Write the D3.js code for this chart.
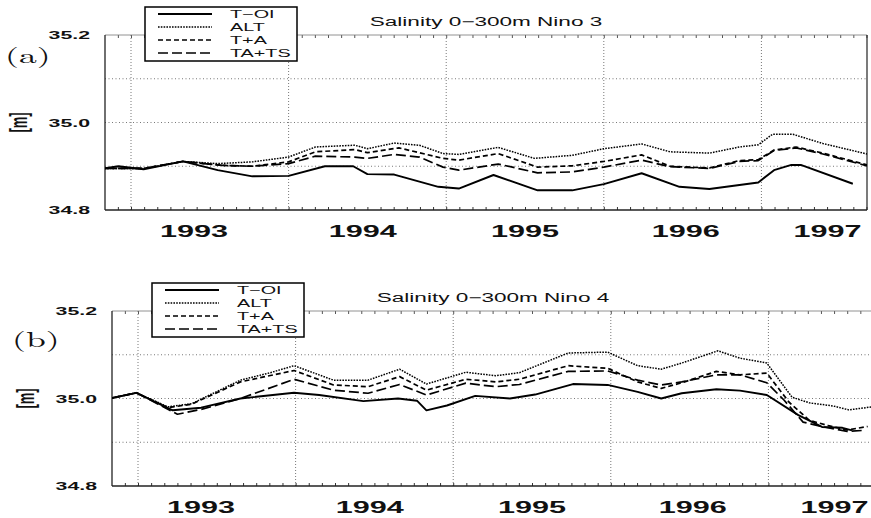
<!DOCTYPE html>
<html>
<head>
<meta charset="utf-8">
<script src="https://cdn.jsdelivr.net/npm/d3@7"></script>
<style>
  body { margin: 0; background: #fff; }
  svg { display: block; }
</style>
</head>
<body>
<div id="chart"></div>
<script>
// ---- data (decimal year, salinity) ----
const yearGrid = [1993, 1994, 1995, 1996, 1997]
const yearLabelAt = [1993.40, 1994.47, 1995.50, 1996.52, 1997.42]
const yTickLabels = [34.8, 35.0, 35.2]
const yGridValues = [34.9, 35.0, 35.1]
const seriesNames = ['T\u2212OI', 'ALT', 'T+A', 'TA+TS']

const nino3_TOI = [[1992.83,34.895],[1992.92,34.900],[1993.08,34.893],[1993.33,34.911],[1993.55,34.891],[1993.77,34.877],[1994.00,34.878],[1994.23,34.900],[1994.41,34.900],[1994.50,34.882],[1994.67,34.881],[1994.95,34.853],[1995.08,34.849],[1995.30,34.880],[1995.58,34.845],[1995.80,34.845],[1996.00,34.859],[1996.24,34.884],[1996.48,34.853],[1996.67,34.848],[1996.98,34.863],[1997.08,34.891],[1997.19,34.903],[1997.25,34.903],[1997.58,34.860]]
const nino3_ALT = [[1992.83,34.895],[1993.08,34.895],[1993.33,34.911],[1993.55,34.906],[1993.77,34.910],[1994.00,34.921],[1994.17,34.944],[1994.42,34.948],[1994.50,34.940],[1994.67,34.953],[1994.83,34.948],[1994.98,34.929],[1995.08,34.927],[1995.33,34.943],[1995.56,34.918],[1995.80,34.925],[1996.00,34.940],[1996.24,34.951],[1996.42,34.933],[1996.67,34.930],[1996.86,34.944],[1996.98,34.949],[1997.07,34.973],[1997.20,34.973],[1997.39,34.952],[1997.67,34.928]]
const nino3_TA = [[1992.83,34.895],[1993.08,34.895],[1993.33,34.911],[1993.58,34.902],[1993.77,34.900],[1994.00,34.910],[1994.17,34.933],[1994.42,34.938],[1994.50,34.931],[1994.70,34.942],[1994.98,34.918],[1995.08,34.914],[1995.33,34.929],[1995.58,34.898],[1995.80,34.901],[1996.00,34.911],[1996.24,34.926],[1996.42,34.900],[1996.67,34.896],[1996.86,34.913],[1996.98,34.915],[1997.08,34.937],[1997.22,34.944],[1997.39,34.930],[1997.67,34.903]]
const nino3_TATS = [[1992.83,34.895],[1993.08,34.895],[1993.33,34.911],[1993.58,34.902],[1993.77,34.900],[1994.00,34.906],[1994.17,34.923],[1994.42,34.921],[1994.50,34.918],[1994.67,34.927],[1994.83,34.921],[1994.98,34.898],[1995.08,34.891],[1995.33,34.905],[1995.58,34.885],[1995.80,34.887],[1996.00,34.898],[1996.24,34.914],[1996.42,34.899],[1996.67,34.895],[1996.86,34.911],[1996.98,34.913],[1997.08,34.936],[1997.22,34.942],[1997.39,34.928],[1997.67,34.901]]

const nino4_TOI = [[1992.82,35.000],[1992.99,35.013],[1993.22,34.973],[1993.40,34.979],[1993.65,35.000],[1993.99,35.013],[1994.15,35.008],[1994.43,34.994],[1994.65,35.000],[1994.77,34.995],[1994.83,34.973],[1994.96,34.984],[1995.14,35.006],[1995.36,35.000],[1995.52,35.009],[1995.76,35.033],[1995.98,35.031],[1996.17,35.015],[1996.32,35.000],[1996.45,35.012],[1996.67,35.021],[1996.82,35.018],[1996.99,35.008],[1997.19,34.962],[1997.34,34.935],[1997.47,34.933],[1997.53,34.927]]
const nino4_ALT = [[1992.82,35.000],[1992.99,35.013],[1993.19,34.981],[1993.34,34.988],[1993.65,35.042],[1993.84,35.059],[1993.99,35.075],[1994.24,35.042],[1994.46,35.042],[1994.66,35.067],[1994.83,35.033],[1995.08,35.060],[1995.27,35.052],[1995.42,35.059],[1995.73,35.104],[1995.98,35.106],[1996.17,35.075],[1996.32,35.067],[1996.45,35.081],[1996.68,35.109],[1996.82,35.092],[1996.99,35.081],[1997.15,35.003],[1997.26,34.990],[1997.41,34.983],[1997.51,34.974],[1997.66,34.981]]
const nino4_TA = [[1992.82,35.000],[1992.99,35.013],[1993.19,34.979],[1993.34,34.987],[1993.65,35.038],[1993.99,35.064],[1994.24,35.031],[1994.46,35.027],[1994.66,35.050],[1994.83,35.019],[1995.08,35.044],[1995.27,35.038],[1995.42,35.044],[1995.73,35.075],[1995.98,35.069],[1996.17,35.038],[1996.32,35.023],[1996.45,35.036],[1996.67,35.062],[1996.82,35.054],[1996.99,35.058],[1997.13,34.992],[1997.26,34.950],[1997.38,34.938],[1997.50,34.928],[1997.63,34.936]]
const nino4_TATS = [[1992.82,35.000],[1992.99,35.013],[1993.25,34.964],[1993.40,34.975],[1993.65,35.000],[1993.99,35.044],[1994.24,35.019],[1994.46,35.012],[1994.66,35.032],[1994.83,35.008],[1995.08,35.035],[1995.27,35.027],[1995.42,35.032],[1995.73,35.062],[1995.98,35.063],[1996.17,35.042],[1996.32,35.031],[1996.45,35.038],[1996.67,35.054],[1996.82,35.054],[1996.99,35.036],[1997.10,34.996],[1997.22,34.946],[1997.35,34.935],[1997.50,34.925],[1997.60,34.927]]

// ---- layout ----
const W = 871, H = 518
const pw = 762, ph = 175
const sx = 1.85 // the scanned figure's text is stretched sideways

const panels = [
  { left: 105, top: 35, tag: '(a)', tagY: 63, title: 'Salinity 0\u2212300m Nino 3',
    series: [nino3_TOI, nino3_ALT, nino3_TA, nino3_TATS] },
  { left: 112, top: 311, tag: '(b)', tagY: 347, title: 'Salinity 0\u2212300m Nino 4',
    series: [nino4_TOI, nino4_ALT, nino4_TA, nino4_TATS] }
]

// line styles: T-OI, ALT, T+A, TA+TS
const lineStyle = [
  { dash: null, w: 1.9 },
  { dash: '1.6,1.2', w: 1.5 },
  { dash: '5,3', w: 1.7 },
  { dash: '10,4', w: 1.7 }
]

const svg = d3.select('#chart').append('svg')
    .attr('width', W).attr('height', H)
    .attr('viewBox', `0 0 ${W} ${H}`)

svg.append('rect').attr('width', W).attr('height', H).attr('fill', '#fff')

const x = d3.scaleLinear().domain([1992.835, 1997.67]).range([0, pw])
const y = d3.scaleLinear().domain([34.8, 35.2]).range([ph, 0])

// monthly minor ticks
const monthTicks = d3.range(0, 59).map(i => 1992 + 10 / 12 + i / 12).filter(t => t >= x.domain()[0] && t <= x.domain()[1])

function stretchText(parent, px, py, str, opts) {
  return parent.append('text')
    .attr('transform', `translate(${px},${py}) scale(${opts.sx || sx},1)`)
    .attr('text-anchor', opts.anchor || 'start')
    .style('font-family', opts.family || '"Liberation Sans", Arial, Helvetica, sans-serif')
    .style('font-size', opts.size + 'px')
    .style('font-weight', opts.weight || 'normal')
    .attr('fill', '#111')
    .text(str)
}

panels.forEach((p, pi) => {
  const g = svg.append('g').attr('transform', `translate(${p.left},${p.top})`)

  const clipId = 'clip' + pi
  g.append('clipPath').attr('id', clipId)
    .append('rect').attr('width', pw).attr('height', ph)

  // grid
  g.append('g').selectAll('line').data(yearGrid).enter().append('line')
      .attr('x1', d => x(d)).attr('x2', d => x(d))
      .attr('y1', 0).attr('y2', ph)
      .attr('stroke', '#555').attr('stroke-width', 0.8).attr('stroke-dasharray', '1,2')
  g.append('g').selectAll('line').data(yGridValues).enter().append('line')
      .attr('x1', 0).attr('x2', pw)
      .attr('y1', d => y(d)).attr('y2', d => y(d))
      .attr('stroke', '#555').attr('stroke-width', 0.8).attr('stroke-dasharray', '1,2.5')

  // ticks top / bottom
  g.append('g').attr('transform', `translate(0,${ph})`)
    .call(d3.axisBottom(x).tickValues(monthTicks).tickSize(-3).tickFormat(''))
    .call(a => a.select('.domain').remove())
    .selectAll('line').attr('stroke', '#333')
  g.append('g')
    .call(d3.axisTop(x).tickValues(monthTicks).tickSize(-3).tickFormat(''))
    .call(a => a.select('.domain').remove())
    .selectAll('line').attr('stroke', '#555')

  // frame
  g.append('line').attr('x1', 0).attr('x2', pw).attr('y1', 0).attr('y2', 0)
    .attr('stroke', '#777').attr('stroke-width', 0.8)
  g.append('line').attr('x1', 0).attr('x2', 0).attr('y1', 0).attr('y2', ph)
    .attr('stroke', '#222').attr('stroke-width', 1.3)
  g.append('line').attr('x1', 0).attr('x2', pw).attr('y1', ph).attr('y2', ph)
    .attr('stroke', '#222').attr('stroke-width', 1.3)
  g.append('line').attr('x1', pw).attr('x2', pw).attr('y1', 0).attr('y2', ph)
    .attr('stroke', '#222').attr('stroke-width', 1.2)

  // lines
  const line = d3.line().x(d => x(d[0])).y(d => y(d[1]))
  const order = [1, 2, 3, 0]
  const lg = g.append('g').attr('clip-path', `url(#${clipId})`)
  order.forEach(si => {
    lg.append('path')
      .datum(p.series[si])
      .attr('d', line)
      .attr('fill', 'none')
      .attr('stroke', '#000')
      .attr('stroke-width', lineStyle[si].w)
      .attr('stroke-dasharray', lineStyle[si].dash)
      .attr('stroke-linejoin', 'round')
  })

  // y tick labels
  yTickLabels.forEach(v => {
    stretchText(g, -15, y(v) + 4, v.toFixed(1), { size: 11.5, weight: 'bold', anchor: 'end' })
  })

  // year labels
  yearGrid.forEach((yr, i) => {
    stretchText(g, x(yearLabelAt[i]), ph + 27, String(yr), { size: 17, weight: 'bold', anchor: 'middle', sx: 1.8 })
  })

  // y unit label
  g.append('text')
    .attr('transform', `translate(${-87},${y(35.0)}) scale(1.9,1) rotate(-90)`)
    .attr('text-anchor', 'middle')
    .attr('dy', '0.35em')
    .style('font-family', '"Liberation Sans", Arial, sans-serif')
    .style('font-size', '13px')
    .style('font-weight', 'bold')
    .attr('fill', '#111')
    .text('[m]')

  // title
  stretchText(g, pw / 2, -9, p.title, { size: 12.2, anchor: 'middle' })

  // panel tag
  stretchText(svg, p.left - 100, p.tagY, p.tag, { size: 21, sx: 1.7, family: '"Latin Modern Roman", "Liberation Serif", "DejaVu Serif", serif' })

  // legend
  const lgd = g.append('g').attr('transform', 'translate(40,-28)')
  lgd.append('rect').attr('width', 152).attr('height', 54)
    .attr('fill', '#fff').attr('stroke', '#000').attr('stroke-width', 1.5)
  seriesNames.forEach((name, i) => {
    const ry = 7 + i * 13
    lgd.append('line')
      .attr('x1', 13).attr('x2', 67).attr('y1', ry).attr('y2', ry)
      .attr('stroke', '#000')
      .attr('stroke-width', lineStyle[i].w)
      .attr('stroke-dasharray', lineStyle[i].dash)
    stretchText(lgd, 85, ry + 4, name, { size: 11, sx: 1.8 })
  })
})
</script>
</body>
</html>
